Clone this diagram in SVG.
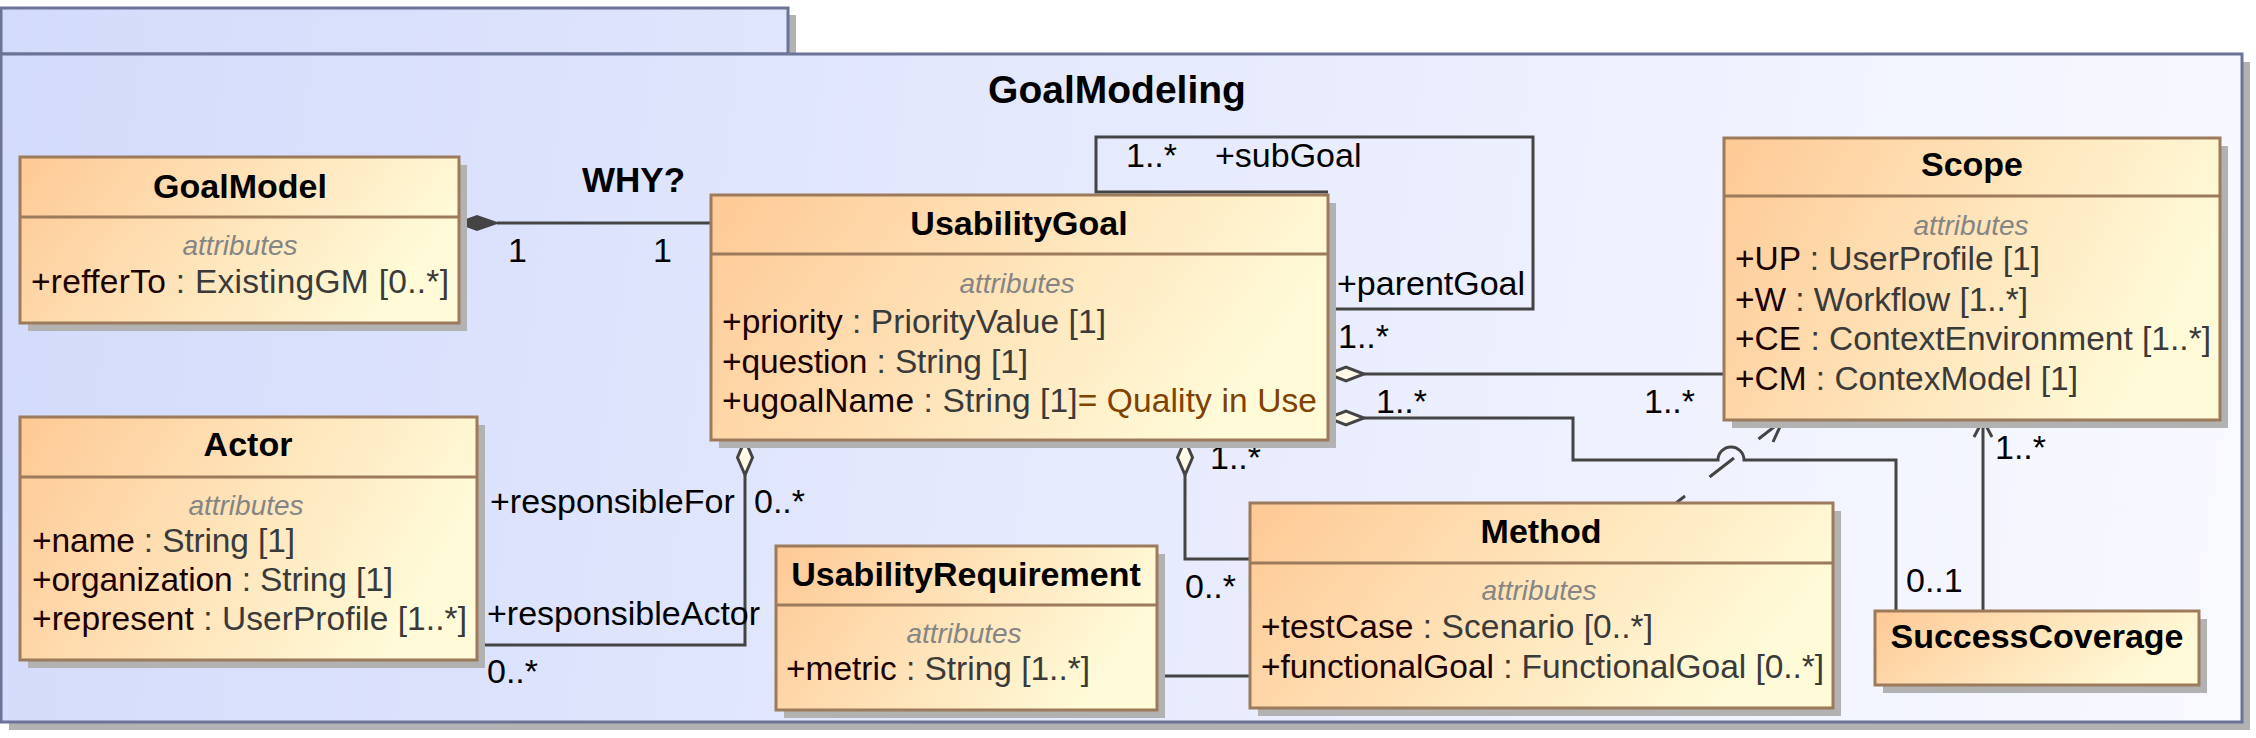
<svg xmlns="http://www.w3.org/2000/svg" width="2256" height="738" viewBox="0 0 2256 738">
<defs>
<linearGradient id="pkg" gradientUnits="userSpaceOnUse" x1="0" y1="0" x2="2242" y2="300">
<stop offset="0" stop-color="#d3dbfb"/>
<stop offset="1" stop-color="#f8f9ff"/>
</linearGradient>
<linearGradient id="cls" x1="0" y1="0" x2="1" y2="0.3">
<stop offset="0" stop-color="#fec995"/>
<stop offset="1" stop-color="#fffad8"/>
</linearGradient>
</defs>
<style>
text{font-family:"Liberation Sans",Arial,sans-serif;}
.shadow{fill:#b2b2b2;}
.box{fill:url(#cls);stroke:#9b7b5b;stroke-width:3;}
.sep{stroke:#9b7b5b;stroke-width:3;}
.title{font-size:34px;font-weight:bold;fill:#000;text-anchor:middle;}
.attrs{font-size:28px;font-style:italic;fill:#858585;text-anchor:middle;}
.attr{font-size:33.5px;fill:#3a3a3a;}
.nm{fill:#1a0000;}
.def{fill:#7f4200;}
.ln{fill:none;stroke:#444;stroke-width:3;}
.dia{fill:#fffbe8;stroke:#444;stroke-width:3;}
.lbl{font-size:34px;fill:#000;}
</style>
<g id="package">
<rect x="8" y="15" width="788" height="46" class="shadow"/>
<rect x="9" y="62" width="2241" height="668" class="shadow"/>
<rect x="1" y="8" width="787" height="46" fill="url(#pkg)" stroke="#6b7396" stroke-width="3"/>
<rect x="1" y="54" width="2241" height="668" fill="url(#pkg)" stroke="#6b7396" stroke-width="3"/>
<text x="1117" y="103" font-size="39" font-weight="bold" text-anchor="middle">GoalModeling</text>
</g>
<g id="connectors">
<path class="ln" d="M497 223H711"/>
<path d="M458 223L477 216L497 223L477 230Z" fill="#444" stroke="#444" stroke-width="2"/>
<text x="582" y="192" font-size="35" font-weight="bold">WHY?</text>
<text class="lbl" x="508" y="262">1</text>
<text class="lbl" x="653" y="262">1</text>
<path class="ln" d="M1328 192H1096V137H1533V309H1328"/>
<text class="lbl" x="1126" y="167">1..*</text>
<text class="lbl" x="1215" y="167">+subGoal</text>
<text class="lbl" x="1337" y="295">+parentGoal</text>
<text class="lbl" x="1338" y="348">1..*</text>
<path class="ln" d="M1364 374H1724"/>
<path class="dia" d="M1328 374L1346 367L1364 374L1346 381Z"/>
<text class="lbl" x="1644" y="413">1..*</text>
<path class="ln" d="M1364 418H1573V460H1718A13 13 0 0 1 1744 460H1896V611"/>
<path class="dia" d="M1328 418L1346 411L1364 418L1346 425Z"/>
<text class="lbl" x="1376" y="413">1..*</text>
<text class="lbl" x="1906" y="592">0..1</text>
<path class="ln" d="M1783 420L1676 503" stroke-dasharray="31 31"/>
<path class="ln" d="M1758 423L1783 420L1773 442"/>
<path class="ln" d="M1983 611V420"/>
<path class="ln" d="M1974 437L1983 420L1992 437"/>
<text class="lbl" x="1995" y="459">1..*</text>
<path class="ln" d="M1185 475V559H1250"/>
<path class="dia" d="M1185 440L1192.5 457.5L1185 475L1177.5 457.5Z"/>
<text class="lbl" x="1210" y="469">1..*</text>
<text class="lbl" x="1185" y="598">0..*</text>
<path class="ln" d="M1157 676H1250"/>
<path class="ln" d="M745 475V645H477"/>
<path class="dia" d="M745 440L752.5 457.5L745 475L737.5 457.5Z"/>
<text class="lbl" x="490" y="513">+responsibleFor</text>
<text class="lbl" x="754" y="513">0..*</text>
<text class="lbl" x="487" y="625">+responsibleActor</text>
<text class="lbl" x="487" y="683">0..*</text>
</g>
<g id="GoalModel">
<rect x="28" y="165" width="439" height="166" class="shadow"/>
<rect x="20" y="157" width="439" height="166" class="box"/>
<line x1="20" y1="217" x2="459" y2="217" class="sep"/>
<text class="title" x="240" y="198">GoalModel</text>
<text class="attrs" x="240" y="255">attributes</text>
<text class="attr" x="31" y="293" textLength="418"><tspan class="nm">+refferTo</tspan> : ExistingGM [0..*]</text>
</g>
<g id="UsabilityGoal">
<rect x="719" y="203" width="617" height="245" class="shadow"/>
<rect x="711" y="195" width="617" height="245" class="box"/>
<line x1="711" y1="254" x2="1328" y2="254" class="sep"/>
<text class="title" x="1019" y="235">UsabilityGoal</text>
<text class="attrs" x="1017" y="293">attributes</text>
<text class="attr" x="722" y="333" textLength="384"><tspan class="nm">+priority</tspan> : PriorityValue [1]</text>
<text class="attr" x="722" y="373" textLength="306"><tspan class="nm">+question</tspan> : String [1]</text>
<text class="attr" x="722" y="412" textLength="595"><tspan class="nm">+ugoalName</tspan> : String [1]<tspan class="def">= Quality in Use</tspan></text>
</g>
<g id="Scope">
<rect x="1732" y="146" width="496" height="282" class="shadow"/>
<rect x="1724" y="138" width="496" height="282" class="box"/>
<line x1="1724" y1="196" x2="2220" y2="196" class="sep"/>
<text class="title" x="1972" y="176">Scope</text>
<text class="attrs" x="1971" y="235">attributes</text>
<text class="attr" x="1735" y="270" textLength="305"><tspan class="nm">+UP</tspan> : UserProfile [1]</text>
<text class="attr" x="1735" y="311" textLength="293"><tspan class="nm">+W</tspan> : Workflow [1..*]</text>
<text class="attr" x="1735" y="350" textLength="476"><tspan class="nm">+CE</tspan> : ContextEnvironment [1..*]</text>
<text class="attr" x="1735" y="390" textLength="343"><tspan class="nm">+CM</tspan> : ContexModel [1]</text>
</g>
<g id="Actor">
<rect x="28" y="425" width="457" height="243" class="shadow"/>
<rect x="20" y="417" width="457" height="243" class="box"/>
<line x1="20" y1="477" x2="477" y2="477" class="sep"/>
<text class="title" x="248" y="456">Actor</text>
<text class="attrs" x="246" y="515">attributes</text>
<text class="attr" x="32" y="552" textLength="263"><tspan class="nm">+name</tspan> : String [1]</text>
<text class="attr" x="32" y="591" textLength="361"><tspan class="nm">+organization</tspan> : String [1]</text>
<text class="attr" x="32" y="630" textLength="435"><tspan class="nm">+represent</tspan> : UserProfile [1..*]</text>
</g>
<g id="UsabilityRequirement">
<rect x="784" y="554" width="381" height="164" class="shadow"/>
<rect x="776" y="546" width="381" height="164" class="box"/>
<line x1="776" y1="605" x2="1157" y2="605" class="sep"/>
<text class="title" x="966" y="586">UsabilityRequirement</text>
<text class="attrs" x="964" y="643">attributes</text>
<text class="attr" x="786" y="680" textLength="304"><tspan class="nm">+metric</tspan> : String [1..*]</text>
</g>
<g id="Method">
<rect x="1258" y="511" width="583" height="205" class="shadow"/>
<rect x="1250" y="503" width="583" height="205" class="box"/>
<line x1="1250" y1="563" x2="1833" y2="563" class="sep"/>
<text class="title" x="1541" y="543">Method</text>
<text class="attrs" x="1539" y="600">attributes</text>
<text class="attr" x="1261" y="638" textLength="392"><tspan class="nm">+testCase</tspan> : Scenario [0..*]</text>
<text class="attr" x="1261" y="678" textLength="563"><tspan class="nm">+functionalGoal</tspan> : FunctionalGoal [0..*]</text>
</g>
<g id="SuccessCoverage">
<rect x="1883" y="619" width="324" height="74" class="shadow"/>
<rect x="1875" y="611" width="324" height="74" class="box"/>
<text class="title" x="2037" y="648">SuccessCoverage</text>
</g>
</svg>
